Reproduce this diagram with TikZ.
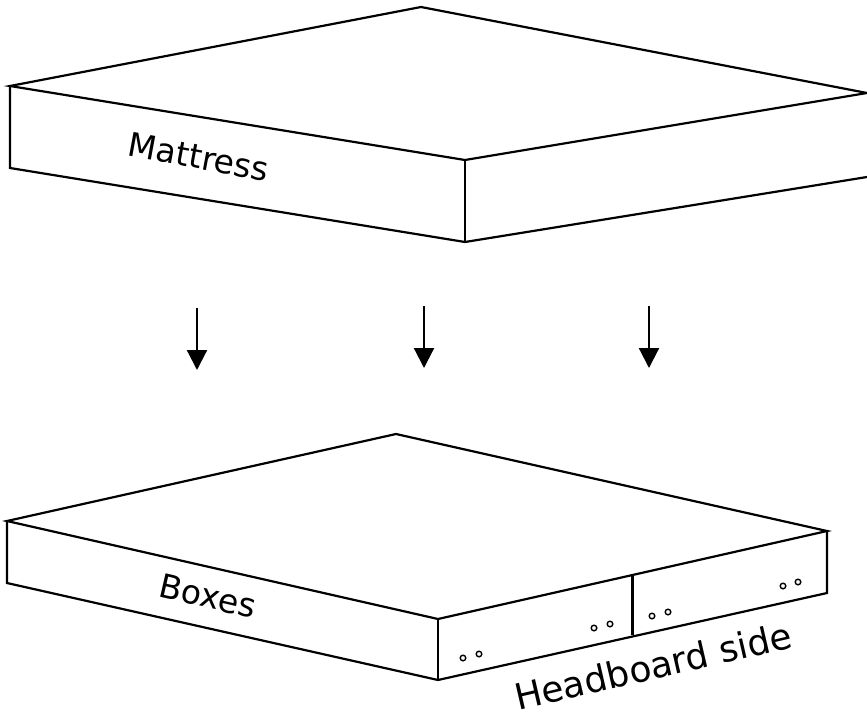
\documentclass[tikz,border=0pt]{standalone}
\usepackage{fontspec}
\setmainfont{DejaVu Sans}
\usetikzlibrary{arrows.meta,calc}

\tikzset{
	edge/.style={line width=2.2pt,line join=miter},
	hole/.style={line width=1.4pt},
	drop/.style={line width=2.2pt,-{Triangle[length=20pt,width=20pt]}},
	sidelabel/.style={inner sep=0pt,font=\fontsize{33}{33}\selectfont}
}

\begin{document}
\begin{tikzpicture}[x=1pt,y=-1pt]
	\useasboundingbox (0,0) rectangle (867,718);
	% mattress
	\coordinate (mtop) at (421,7);
	\coordinate (mleft) at (10,86);
	\coordinate (mfront) at (465,160);
	\coordinate (mright) at (867,93);
	\draw[edge] (mright) -- (mtop) -- (mleft) -- (mfront) -- (mright);
	\draw[edge] (mleft) -- ++(0,82) -- ($(mfront)+(0,82)$) -- ($(mright)+(0,84)$);
	\draw[edge] (mfront) -- ++(0,82);
	\node[sidelabel,rotate=-10.5] (mattress) at (199,157) {Mattress};
	% arrows
	\foreach \x/\y in {197/308,424/306,649/306}{
		\coordinate (from\x) at (\x,\y);
		\coordinate (to\x) at (\x,\y+62);
		\draw[drop] (from\x) -- (to\x);
	}
	% boxes
	\coordinate (btop) at (396,434);
	\coordinate (bleft) at (7,521);
	\coordinate (bfront) at (438,619);
	\coordinate (bright) at (827,531);
	\draw[edge] (bright) -- (btop) -- (bleft) -- (bfront) -- cycle;
	\draw[edge] (bleft) -- ++(0,62) -- ($(bfront)+(0,61)$) -- ($(bright)+(0,62)$) -- (bright);
	\draw[edge] (bfront) -- ++(0,61);
	\draw[edge] ($(bfront)!0.5!(bright)$) -- ++(0,60);
	\foreach \x/\y in {463/658,479/654,594/628,610/624,652/616,668/612,783/586,798/582}
		\draw[hole] (\x,\y) circle (2.8pt);
	\node[sidelabel,rotate=-13] (boxes) at (208,596) {Boxes};
	\node[sidelabel,rotate=13,font=\fontsize{36}{36}\selectfont] (headboard) at (653,666) {Headboard side};
\end{tikzpicture}
\end{document}
